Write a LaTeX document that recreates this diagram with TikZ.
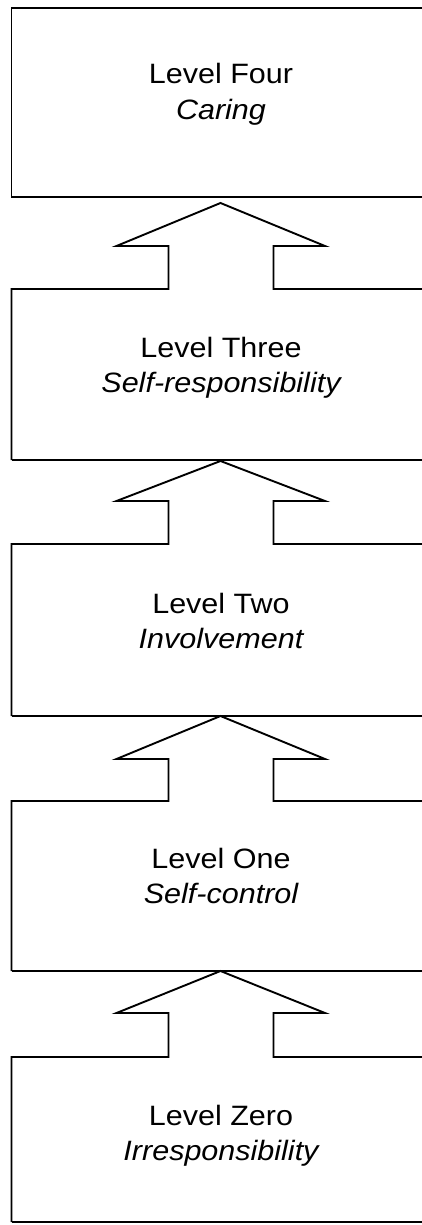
\documentclass[tikz,border=0pt]{standalone}
\usepackage{fontspec}
\setmainfont{Liberation Sans}[FakeStretch=1.09]
\begin{document}
\begin{tikzpicture}[x=1pt,y=-1pt,
  outline/.style={line width=1.9pt,line join=miter,black},
  lvl/.style={anchor=base,inner sep=0pt,font=\fontsize{28}{34}\selectfont},
  sub/.style={anchor=base,inner sep=0pt,font=\fontsize{28}{34}\selectfont\itshape}]
\useasboundingbox (0,0) rectangle (422,1225);
\clip (0,0) rectangle (422,1225);
% top box
\draw[outline] (440,8) -- (11.5,8) -- (11.5,197) -- (440,197);
% lower boxes with arrow-shaped tops: top, headbase, tip, bottom
\foreach \t/\h/\p/\b in {289/246/203/460, 544/501/461/716, 801/759/716/971, 1057/1013/971/1222}{
  \draw[outline] (11.5,\b) -- (11.5,\t) -- (168.5,\t) -- (168.5,\h) -- (116.5,\h) -- (220.5,\p)
     -- (325,\h) -- (273.5,\h) -- (273.5,\t) -- (440,\t);
  \draw[outline] (11.5,\b) -- (440,\b);
}
\node[lvl] (l4) at (221,84) {Level Four};
\node[sub] (s4) at (221,120) {Caring};
\node[lvl] (l3) at (221,357) {Level Three};
\node[sub] (s3) at (221,392) {Self-responsibility};
\node[lvl] (l2) at (221,613) {Level Two};
\node[sub] (s2) at (221,648) {Involvement};
\node[lvl] (l1) at (221,868) {Level One};
\node[sub] (s1) at (221,903) {Self-control};
\node[lvl] (l0) at (221,1125) {Level Zero};
\node[sub] (s0) at (221,1160) {Irresponsibility};
\end{tikzpicture}
\end{document}
